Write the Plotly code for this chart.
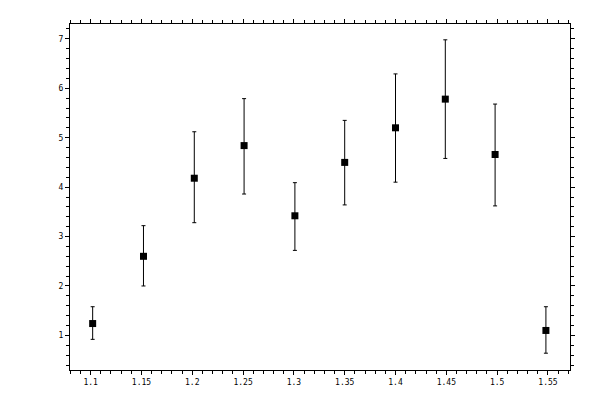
import plotly.graph_objects as go

x_vals = [1.102, 1.152, 1.202, 1.251, 1.301, 1.35, 1.4, 1.449, 1.498, 1.548]
y_vals = [1.24, 2.60, 4.18, 4.84, 3.42, 4.50, 5.20, 5.78, 4.66, 1.10]
y_upper = [1.58, 3.22, 5.12, 5.79, 4.09, 5.35, 6.29, 6.98, 5.68, 1.58]
y_lower = [0.92, 2.00, 3.28, 3.86, 2.72, 3.64, 4.10, 4.58, 3.62, 0.64]

err_plus = [u - y for u, y in zip(y_upper, y_vals)]
err_minus = [y - l for l, y in zip(y_lower, y_vals)]

x_range = [1.0797, 1.5717]
y_range = [0.3, 7.3]

fig = go.Figure()
fig.add_trace(go.Scatter(
    x=x_vals, y=y_vals, mode="markers",
    marker=dict(symbol="square", size=7, color="black", line=dict(width=0)),
    error_y=dict(type="data", symmetric=False, array=err_plus, arrayminus=err_minus,
                 color="black", thickness=1, width=2),
    showlegend=False,
))

font = dict(family="DejaVu Sans Mono", size=8, color="black")
common = dict(showgrid=False, zeroline=False, linecolor="black", linewidth=1)

fig.update_layout(
    width=600, height=400,
    margin=dict(l=62, r=38, t=11, b=38),
    paper_bgcolor="white", plot_bgcolor="white",
    font=font,
    xaxis=dict(range=x_range, tick0=1.1, dtick=0.05, ticks="outside", ticklen=4,
               tickcolor="black", showline=True, mirror="allticks",
               minor=dict(dtick=0.01, tick0=1.1, ticks="outside", ticklen=3, tickcolor="black"),
               tickfont=font, **common),
    yaxis=dict(range=y_range, tick0=1, dtick=1, ticks="outside", ticklen=4,
               tickcolor="black", showline=True, mirror="allticks",
               minor=dict(dtick=0.2, tick0=1, ticks="outside", ticklen=3, tickcolor="black"),
               tickfont=font, **common),
    xaxis2=dict(range=x_range, overlaying="x", tick0=1.1, dtick=0.05, ticks="inside",
                ticklen=4, tickcolor="black", showticklabels=False, mirror="allticks",
                showline=False, showgrid=False, zeroline=False),
    yaxis2=dict(range=y_range, overlaying="y", tick0=1, dtick=1, ticks="inside",
                ticklen=4, tickcolor="black", showticklabels=False, mirror="allticks",
                showline=False, showgrid=False, zeroline=False),
)

fig.write_html("out.html")
